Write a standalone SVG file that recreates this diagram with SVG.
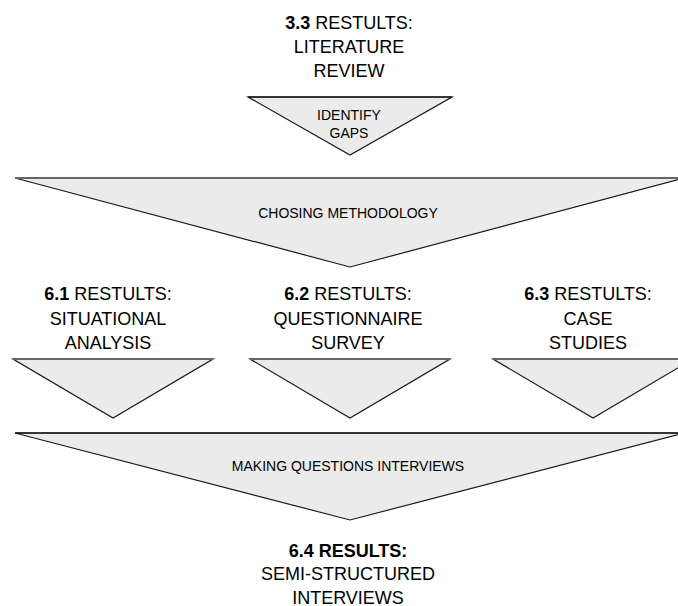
<svg xmlns="http://www.w3.org/2000/svg" width="678" height="606" viewBox="0 0 678 606">
  <style>
    .tri { fill: #ebebeb; stroke: #1a1a1a; stroke-width: 1.2; stroke-linejoin: miter; }
    .edge-gray { stroke: #666666; stroke-width: 2; }
    .edge-dark { stroke: #1a1a1a; stroke-width: 1.5; }
    .big { font-family: "Liberation Sans", Arial, sans-serif; font-size: 18px; fill: #000; text-anchor: middle; }
    .small { font-family: "Liberation Sans", Arial, sans-serif; font-size: 14px; fill: #000; text-anchor: middle; }
    .b { font-weight: bold; }
  </style>
  <rect width="678" height="606" fill="#ffffff"/>

  <!-- Result headings -->
  <g id="lit-review">
    <text class="big" x="349" y="28.5"><tspan class="b">3.3</tspan> RESTULTS:</text>
    <text class="big" x="349" y="52.5">LITERATURE</text>
    <text class="big" x="349" y="76.5">REVIEW</text>
  </g>

  <g id="identify-gaps">
    <polygon class="tri" points="248,97 452,97 350,155"/>
    <line class="edge-dark" x1="248" y1="97" x2="452" y2="97"/>
    <text class="small" x="349" y="120">IDENTIFY</text>
    <text class="small" x="349" y="138">GAPS</text>
  </g>

  <g id="choosing-methodology">
    <polygon class="tri" points="15,178 684,178 350,267"/>
    <line class="edge-gray" x1="15" y1="178" x2="684" y2="178"/>
    <text class="small" x="348" y="218">CHOSING METHODOLOGY</text>
  </g>

  <g id="situational-analysis">
    <text class="big" x="108" y="299.5"><tspan class="b">6.1</tspan> RESTULTS:</text>
    <text class="big" x="108" y="324.5">SITUATIONAL</text>
    <text class="big" x="108" y="348.5">ANALYSIS</text>
    <polygon class="tri" points="13,359 213,359 113,418"/>
    <line class="edge-gray" x1="13" y1="359" x2="213" y2="359"/>
  </g>

  <g id="questionnaire-survey">
    <text class="big" x="348" y="299.5"><tspan class="b">6.2</tspan> RESTULTS:</text>
    <text class="big" x="348" y="324.5">QUESTIONNAIRE</text>
    <text class="big" x="348" y="348.5">SURVEY</text>
    <polygon class="tri" points="250,359 450,359 350,418"/>
    <line class="edge-gray" x1="250" y1="359" x2="450" y2="359"/>
  </g>

  <g id="case-studies">
    <text class="big" x="588" y="299.5"><tspan class="b">6.3</tspan> RESTULTS:</text>
    <text class="big" x="588" y="324.5">CASE</text>
    <text class="big" x="588" y="348.5">STUDIES</text>
    <polygon class="tri" points="493,359 693,359 593,418"/>
    <line class="edge-gray" x1="493" y1="359" x2="693" y2="359"/>
  </g>

  <g id="making-questions">
    <polygon class="tri" points="15,433 684,433 350,520"/>
    <line class="edge-dark" x1="15" y1="433" x2="684" y2="433"/>
    <text class="small" x="348" y="471">MAKING QUESTIONS INTERVIEWS</text>
  </g>

  <g id="interviews">
    <text class="big b" x="348" y="556.5">6.4 RESULTS:</text>
    <text class="big" x="348" y="579.5">SEMI-STRUCTURED</text>
    <text class="big" x="348" y="603.5">INTERVIEWS</text>
  </g>

  <!-- no separate connectors: the funnels carry the flow -->
  <g id="connectors"/>
</svg>
